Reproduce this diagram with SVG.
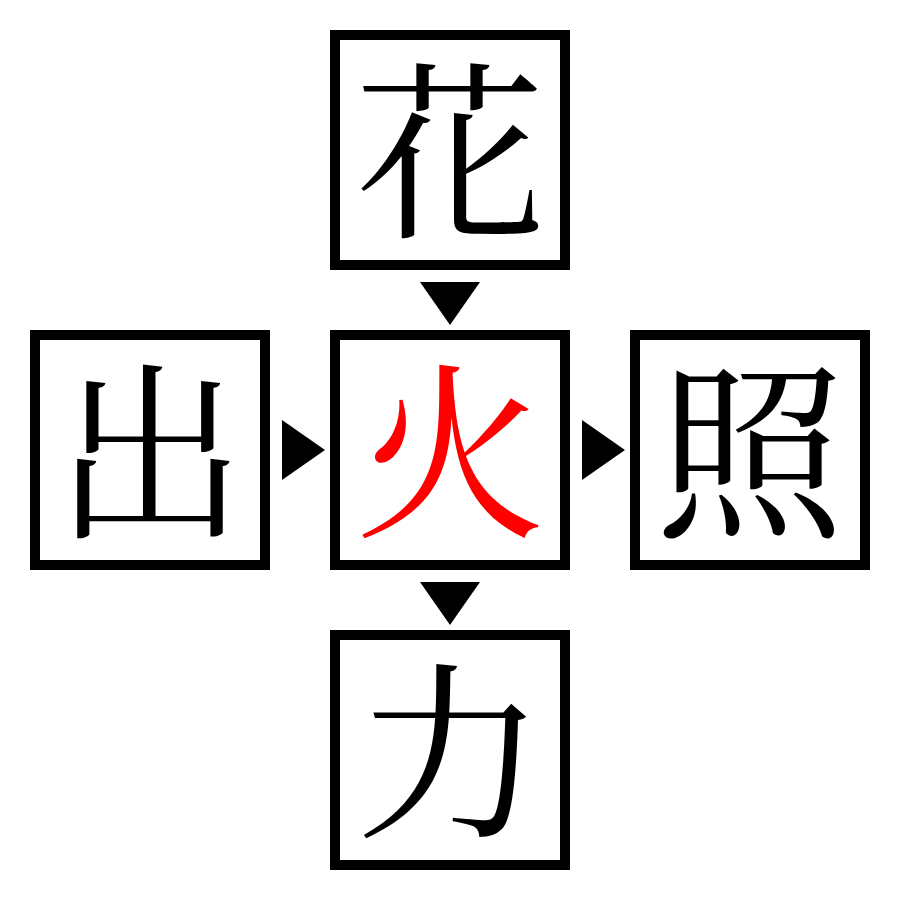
<svg xmlns="http://www.w3.org/2000/svg" width="900" height="900" viewBox="0 0 900 900">
<style>
.box{fill:#fff;stroke:#000;stroke-width:10}
.t{font-family:"Noto Serif CJK JP","Noto Sans CJK JP",serif;font-size:190px;text-anchor:middle;dominant-baseline:central;fill:#000}
.arr{fill:#000}
</style>
<rect width="900" height="900" fill="#fff"/>
<g id="connectors">
<polygon class="arr" points="420,282 480,282 450,325"/>
<polygon class="arr" points="282,420 282,480 325,450"/>
<polygon class="arr" points="582,420 582,480 625,450"/>
<polygon class="arr" points="420,582 480,582 450,625"/>
</g>
<g id="n-top"><rect class="box" x="335" y="35" width="230" height="230"/><text class="t" x="450" y="140">花</text></g>
<g id="n-left"><rect class="box" x="35" y="335" width="230" height="230"/><text class="t" x="150" y="440">出</text></g>
<g id="n-center"><rect class="box" x="335" y="335" width="230" height="230"/><text class="t" x="450" y="440" style="fill:#f00">火</text></g>
<g id="n-right"><rect class="box" x="635" y="335" width="230" height="230"/><text class="t" x="750" y="440">照</text></g>
<g id="n-bottom"><rect class="box" x="335" y="635" width="230" height="230"/><text class="t" x="450" y="740">力</text></g>
</svg>
